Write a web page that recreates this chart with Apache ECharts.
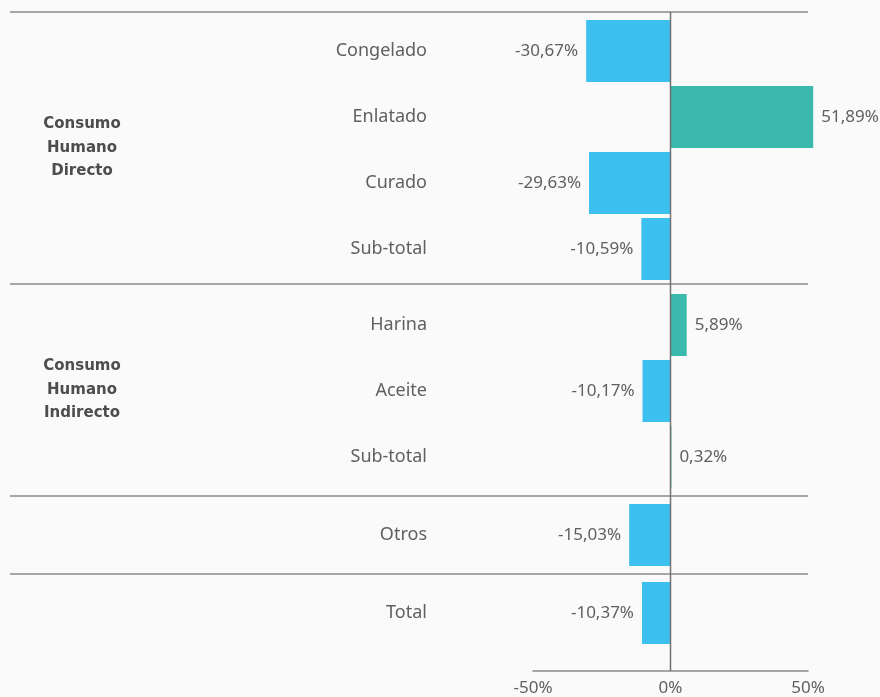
<!DOCTYPE html>
<html>
<head>
<meta charset="utf-8">
<script src="https://cdn.jsdelivr.net/npm/echarts@6/dist/echarts.min.js"></script>
<style>
  html, body { margin: 0; background: #fafafa; }
  #chart { width: 880px; height: 697px; }
</style>
</head>
<body>
<div id="chart"></div>
<script>
// data
const groupNames = ['Consumo\nHumano\nDirecto', 'Consumo\nHumano\nIndirecto', '', '']
const directoCats = ['Congelado', 'Enlatado', 'Curado', 'Sub-total']
const directoValues = [-30.67, 51.89, -29.63, -10.59]
const indirectoCats = ['Harina', 'Aceite', 'Sub-total']
const indirectoValues = [5.89, -10.17, 0.32]
const otrosCats = ['Otros']
const otrosValues = [-15.03]
const totalCats = ['Total']
const totalValues = [-10.37]
const axisMin = -50
const axisMax = 50
const axisStep = 50

const sections = [
  { cats: directoCats, values: directoValues },
  { cats: indirectoCats, values: indirectoValues },
  { cats: otrosCats, values: otrosValues },
  { cats: totalCats, values: totalValues }
]

// layout
const font = 'Noto Sans'
const plotLeft = 533
const plotRight = 72
const rowHeight = 66
const gridTops = [18, 292, 502, 580]
const separatorY = [12, 284, 496, 574]
const lineLeft = 10
const lineRight = 808
const axisOffset = 25
const blue = '#3bc0f0'
const teal = '#3bb9ad'
const gray = '#8a8a8a'
const textColor = '#606060'

const fmt = (v) => v.toFixed(2).replace('.', ',') + '%'

const chart = echarts.init(document.getElementById('chart'))

const last = sections.length - 1
const grids = sections.map((s, i) => ({
  left: plotLeft,
  right: plotRight,
  top: gridTops[i],
  height: s.cats.length * rowHeight
}))

const xAxes = sections.map((s, i) => ({
  type: 'value',
  gridIndex: i,
  min: axisMin,
  max: axisMax,
  interval: axisStep,
  show: i === last,
  position: 'bottom',
  offset: axisOffset,
  axisLine: { show: true, lineStyle: { color: gray, width: 1.5 } },
  axisTick: { show: false },
  splitLine: { show: false },
  axisLabel: {
    formatter: (v) => v + '%',
    color: textColor,
    fontFamily: font,
    fontSize: 17,
    margin: 9
  }
}))

const yAxes = sections.map((s, i) => ({
  type: 'category',
  gridIndex: i,
  inverse: true,
  data: s.cats,
  axisLine: { show: false },
  axisTick: { show: false },
  axisLabel: { color: textColor, fontFamily: font, fontSize: 18, margin: 106 }
}))

const series = sections.map((s, i) => ({
  type: 'bar',
  xAxisIndex: i,
  yAxisIndex: i,
  clip: false,
  barCategoryGap: '6%',
  data: s.values.map((v) => ({
    value: v,
    itemStyle: { color: v < 0 ? blue : teal },
    label: {
      show: true,
      position: v < 0 ? 'left' : 'right',
      distance: 8,
      formatter: (p) => fmt(p.value),
      color: textColor,
      fontFamily: font,
      fontSize: 17
    }
  }))
}))

chart.setOption({
  backgroundColor: '#fafafa',
  animation: false,
  grid: grids,
  xAxis: xAxes,
  yAxis: yAxes,
  series
})

// separators, zero line and group labels
const zeroX = chart.convertToPixel({ xAxisIndex: 0 }, 0)
const axisY = gridTops[last] + sections[last].cats.length * rowHeight + axisOffset
const graphic = separatorY.map((y) => ({
  type: 'line',
  shape: { x1: lineLeft, y1: y, x2: lineRight, y2: y },
  style: { stroke: gray, lineWidth: 1.5 },
  z: 10
}))
graphic.push({
  type: 'line',
  shape: { x1: zeroX, y1: separatorY[0], x2: zeroX, y2: axisY },
  style: { stroke: '#707070', lineWidth: 1.5 },
  z: 10
})
groupNames.forEach((name, i) => {
  if (!name) return
  const yEnd = i + 1 < separatorY.length ? separatorY[i + 1] : axisY
  graphic.push({
    type: 'text',
    x: 82,
    y: (separatorY[i] + yEnd) / 2,
    style: {
      text: name,
      fill: '#4d4d4d',
      font: 'bold 15px "DejaVu Sans"',
      lineHeight: 23.5,
      align: 'center',
      verticalAlign: 'middle'
    }
  })
})
chart.setOption({ graphic })
</script>
</body>
</html>
